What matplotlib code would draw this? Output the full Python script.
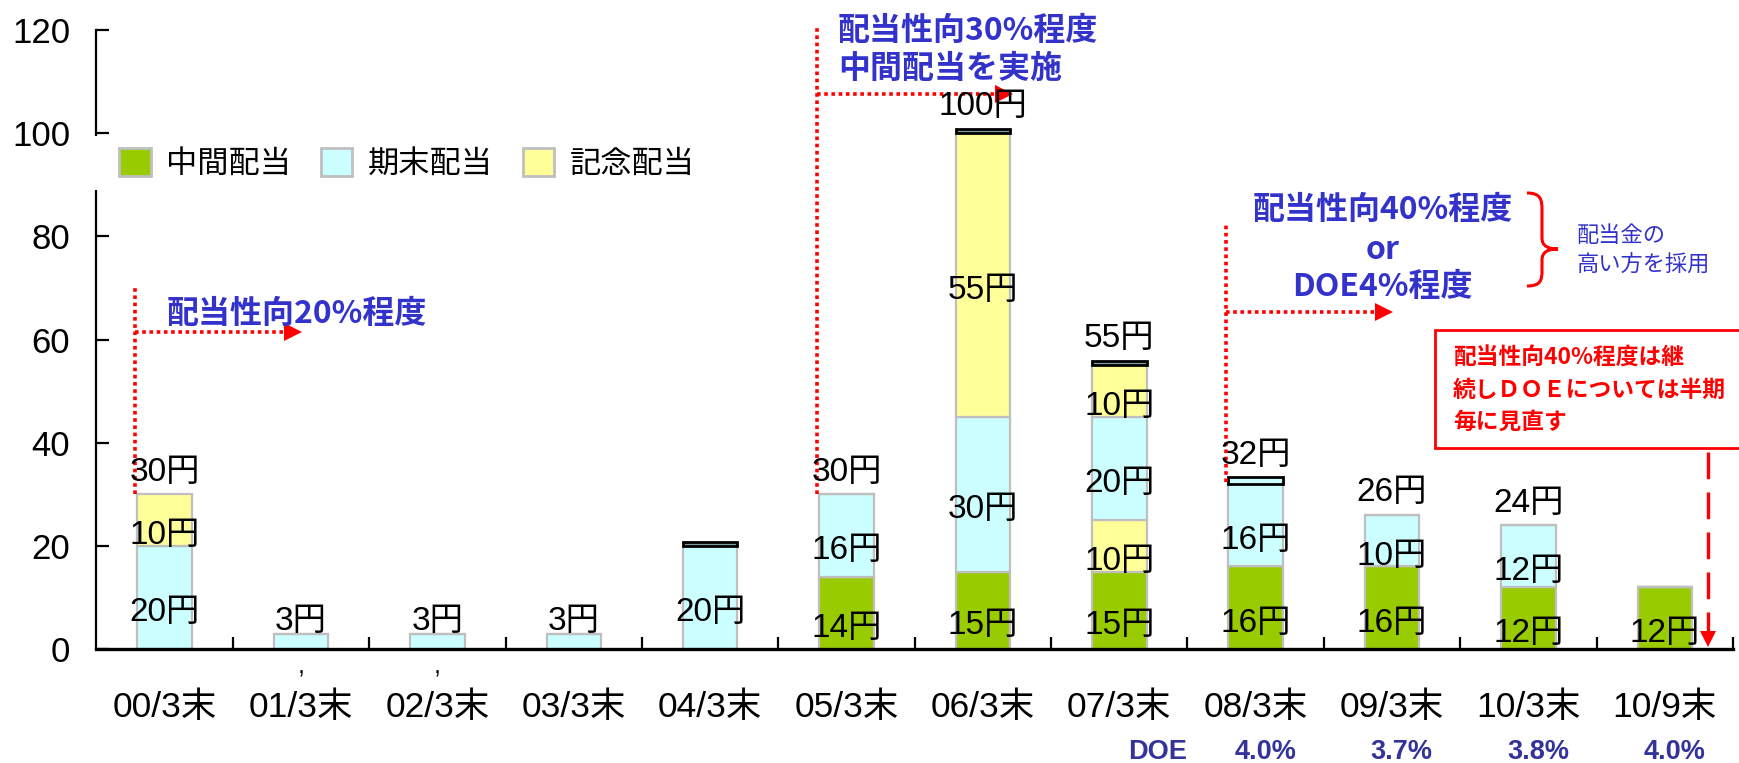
import matplotlib
matplotlib.use('Agg')
import matplotlib.pyplot as plt
from matplotlib.patches import Patch, Rectangle, PathPatch
from matplotlib.path import Path

# ---------------- data ----------------
categories = ['00/3末', '01/3末', '02/3末', '03/3末', '04/3末', '05/3末',
              '06/3末', '07/3末', '08/3末', '09/3末', '10/3末', '10/9末']
interim = [0, 0, 0, 0, 0, 14, 15, 15, 16, 16, 12, 12]          # 中間配当
interim_commem = [0, 0, 0, 0, 0, 0, 0, 10, 0, 0, 0, 0]         # 記念配当 (中間)
year_end = [20, 3, 3, 3, 20, 16, 30, 20, 16, 10, 12, 0]        # 期末配当
year_end_commem = [10, 0, 0, 0, 0, 0, 55, 10, 0, 0, 0, 0]      # 記念配当 (期末)
cap_heights = [0, 0, 0, 0, 0.8, 0, 0.8, 0.8, 1.3, 0, 0, 0]
doe_categories = [8, 9, 10, 11]
doe_values = ['4.0%', '3.7%', '3.8%', '4.0%']
legend_labels = ['中間配当', '期末配当', '記念配当']

# ---------------- style ----------------
W, H = 1740, 763
GREEN, CYAN, YELLOW = '#99CC00', '#CCFFFF', '#FFFF99'
EDGE = '#BFBFBF'
BLUE = '#3333CC'
DBLUE = '#333399'
RED = '#FF0000'
NUM_FONT = ['Liberation Sans', 'Noto Sans CJK JP']
JP_FONT = ['Noto Sans CJK JP', 'DejaVu Sans']
plt.rcParams['font.family'] = NUM_FONT

fig = plt.figure(figsize=(W / 100, H / 100), dpi=100)
ax_l, ax_r, ax_top, ax_bot = 96.5, 1733, 30, 649
ax = fig.add_axes([ax_l / W, 1 - ax_bot / H, (ax_r - ax_l) / W, (ax_bot - ax_top) / H])

def fpx(x, y):
    return (x / W, 1 - y / H)

n = len(categories)
xs = list(range(n))
bw = 0.4
series = [(interim, GREEN), (interim_commem, YELLOW), (year_end, CYAN), (year_end_commem, YELLOW)]
bottoms = [0] * n
for vals, col in series:
    ax.bar(xs, vals, bw, bottom=bottoms, color=col, edgecolor=EDGE, linewidth=1.6, zorder=2)
    bottoms = [b + v for b, v in zip(bottoms, vals)]
totals = bottoms[:]

# caps on top of some bars
for i in xs:
    if cap_heights[i] > 0:
        fc = CYAN if cap_heights[i] > 1 else '#7F9F9F'
        ax.bar(i, cap_heights[i], bw, bottom=totals[i], color=fc, edgecolor='black',
               linewidth=2.0, zorder=3)

# labels
LFS = 24
for i in xs:
    segs = [interim[i], interim_commem[i], year_end[i], year_end_commem[i]]
    nz = [s for s in segs if s > 0]
    tot = totals[i]
    if len(nz) == 1 and tot < 5:
        ax.text(i, tot + 2.4, f'{tot}円', ha='center', va='center', fontsize=LFS, zorder=5)
        continue
    b = 0
    for s in segs:
        if s > 0:
            ax.text(i, b + s / 2 - 3, f'{s}円', ha='center', va='center', fontsize=LFS, zorder=5)
        b += s
    if len(nz) > 1:
        ax.text(i, tot + cap_heights[i] + 4.3, f'{tot}円', ha='center', va='center',
                fontsize=LFS, zorder=5)

# axes
ax.set_xlim(-0.5, n - 0.5)
ax.set_ylim(0, 120)
ax.set_yticks(range(0, 121, 20))
ax.set_xticks(xs)
ax.set_xticklabels(categories)
ax.set_xticks([k + 0.5 for k in range(n)], minor=True)
ax.tick_params(axis='x', which='major', length=0, labelsize=25.5, pad=30)
ax.tick_params(axis='x', which='minor', direction='in', length=9, width=1.6)
ax.tick_params(axis='y', direction='in', length=9, width=1.6, labelsize=25, pad=19)
for sp in ['top', 'right']:
    ax.spines[sp].set_visible(False)
ax.spines['left'].set_linewidth(1.6)
ax.spines['bottom'].set_linewidth(2.4)
ax.spines['bottom'].set_zorder(4)

# stray commas under 01 and 02
for i in (1, 2):
    ax.text(i, -3.3, ',', ha='center', va='center', fontsize=18, clip_on=False)

# white patch breaking the y-axis behind the legend
ax.add_patch(Rectangle((-0.004, 0.742), 0.012, 0.086, transform=ax.transAxes,
                       facecolor='white', edgecolor='none', zorder=6, clip_on=False))

handles = [Patch(facecolor=c, edgecolor=EDGE, linewidth=2) for c in (GREEN, CYAN, YELLOW)]
leg = ax.legend(handles, legend_labels, ncol=3, loc='center left',
                bbox_to_anchor=(0.0064, 0.7835), frameon=False, borderaxespad=0,
                prop={'family': JP_FONT, 'size': 22.5}, handlelength=1.0, handleheight=1.0,
                handletextpad=0.5, columnspacing=0.95)
leg.set_zorder(7)

# ---------------- annotations ----------------
dot = dict(color=RED, linewidth=2.6, linestyle=(0, (1, 1)), clip_on=False, zorder=4)
head_dx = 0.065

def dotted_bracket(xv, y0, y1, yh, xtip):
    ax.plot([xv, xv], [y0, y1], **dot)
    ax.plot([xv, xtip - 0.11], [yh, yh], **dot)
    ax.plot([xtip - head_dx], [yh], marker='>', markersize=13, color=RED,
            markeredgewidth=0, clip_on=False, zorder=4)

bold_blue = dict(color=BLUE, fontsize=23, fontweight='bold', family=JP_FONT, zorder=5)

dotted_bracket(0 - bw / 2 - 0.02, totals[0], 70.5, 61.4, 1.007)
ax.text(0.967, 64.9, '配当性向20%程度', ha='center', va='center', **bold_blue)

dotted_bracket(5 - bw / 2 - 0.02, totals[5], 120.9, 107.6, 6.22)
ax.text(4.937, 119.8, '配当性向30%程度', ha='left', va='center', **bold_blue)
ax.text(4.937, 112.4, '中間配当を実施', ha='left', va='center', **bold_blue)

dotted_bracket(8 - bw / 2 - 0.02, totals[8] + 0.4, 82.2, 65.3, 9.006)
ax.text(8.93, 85.1, '配当性向40%程度', ha='center', va='center', **bold_blue)
ax.text(8.93, 77.3, 'or', ha='center', va='center', **bold_blue)
ax.text(8.93, 70.2, 'DOE4%程度', ha='center', va='center', **bold_blue)

ax.text(10.356, 80.2, '配当金の', ha='left', va='center', color=BLUE, fontsize=16, family=JP_FONT)
ax.text(10.356, 74.4, '高い方を採用', ha='left', va='center', color=BLUE, fontsize=16, family=JP_FONT)

# red brace
bp = [(1527, 193), (1541, 193), (1542, 200), (1542, 210), (1542, 238),
      (1542, 246), (1548, 249), (1558, 249),
      (1548, 249), (1542, 252), (1542, 260), (1542, 270),
      (1542, 280), (1541, 286), (1527, 286)]
codes = [Path.MOVETO, Path.CURVE4, Path.CURVE4, Path.CURVE4, Path.LINETO,
         Path.CURVE4, Path.CURVE4, Path.CURVE4,
         Path.CURVE4, Path.CURVE4, Path.CURVE4, Path.LINETO,
         Path.CURVE4, Path.CURVE4, Path.CURVE4]
fig.patches.append(PathPatch(Path([fpx(*p) for p in bp], codes), transform=fig.transFigure,
                             facecolor='none', edgecolor=RED, linewidth=2.2))

# red box with note
x0, y0 = fpx(1435, 448)
fig.patches.append(Rectangle((x0, y0), (1770 - 1435) / W, (448 - 330) / H,
                             transform=fig.transFigure, facecolor='white',
                             edgecolor=RED, linewidth=2.0))
for txt, yy in zip(['配当性向40%程度は継', '続しＤＯＥについては半期', '毎に見直す'], [358, 390, 422]):
    fig.text(*fpx(1453, yy), txt, ha='left', va='center', color=RED, fontsize=16.4,
             fontweight='bold', family=JP_FONT)

# red dashed arrow at 10/9
ax.plot([11.32, 11.32], [38.2, 3.0], color=RED, linewidth=2.4, linestyle=(0, (8, 4)),
        clip_on=False, zorder=4)
ax.plot([11.32], [1.9], marker='v', markersize=12, color=RED, markeredgewidth=0,
        clip_on=False, zorder=4)

# DOE row
ax.text(7.28, -20, 'DOE', ha='center', va='center', color=DBLUE, fontsize=19.5,
        fontweight='bold', clip_on=False)
for c, v in zip(doe_categories, doe_values):
    ax.text(c + 0.07, -20, v, ha='center', va='center', color=DBLUE, fontsize=19.5,
            fontweight='bold', clip_on=False)

fig.savefig('out.png', dpi=100)
